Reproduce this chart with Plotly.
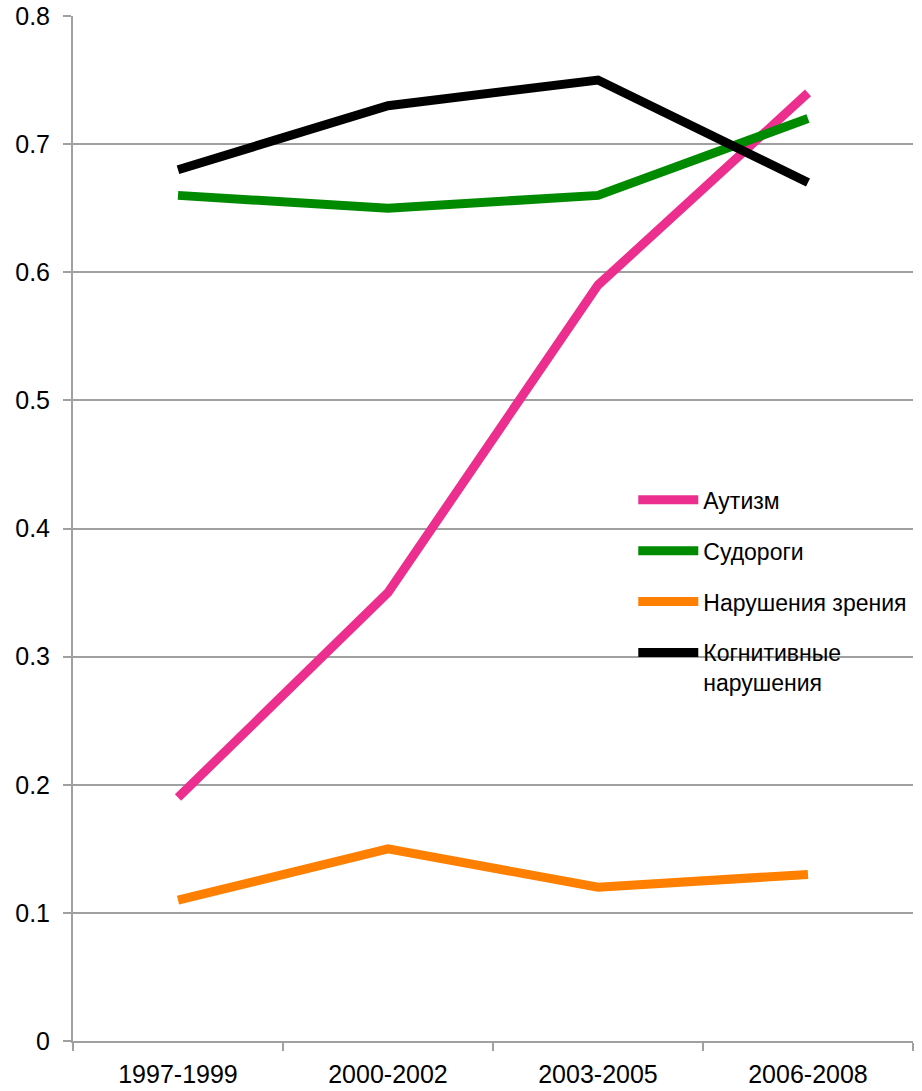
import plotly.graph_objects as go

periods = ["1997-1999", "2000-2002", "2003-2005", "2006-2008"]
autism = [0.19, 0.35, 0.59, 0.74]
seizures = [0.66, 0.65, 0.66, 0.72]
vision = [0.11, 0.15, 0.12, 0.13]
cognitive = [0.68, 0.73, 0.75, 0.67]

series = [
    ("Аутизм", autism, "#EC2F8F"),
    ("Судороги", seizures, "#008A00"),
    ("Нарушения зрения", vision, "#FF7F00"),
    ("Когнитивные<br>нарушения", cognitive, "#000000"),
]

fig = go.Figure()
for i, (name, vals, color) in enumerate(series):
    fig.add_trace(go.Scatter(
        x=periods, y=vals, name=name, mode="lines",
        line=dict(color=color, width=9),
        legendgroup=f"g{i}",
    ))

font_family = "Liberation Sans, Arial, sans-serif"
fig.update_layout(
    width=922, height=1091,
    margin=dict(l=73, r=9, t=16, b=50, autoexpand=False),
    paper_bgcolor="white", plot_bgcolor="white",
    font=dict(family=font_family, size=24, color="black"),
    showlegend=True,
    legend=dict(
        x=0.667, y=0.549, xanchor="left", yanchor="top",
        font=dict(size=23, family=font_family),
        traceorder="grouped", tracegroupgap=18, valign="top",
        bgcolor="rgba(0,0,0,0)", itemwidth=60,
    ),
    xaxis=dict(
        type="category", range=[-0.5, 3.5], automargin=False,
        showline=True, linecolor="#A0A0A0", linewidth=2,
        ticks="outside", tickson="boundaries", ticklen=8,
        tickcolor="#A0A0A0", tickwidth=2, ticklabelstandoff=10,
        showgrid=False, tickfont=dict(size=25),
    ),
    yaxis=dict(
        range=[0, 0.8], dtick=0.1, tickformat=".1~f", automargin=False,
        showline=True, linecolor="#A0A0A0", linewidth=2,
        ticks="outside", ticklen=8, tickcolor="#A0A0A0", tickwidth=2,
        ticklabelstandoff=8,
        showgrid=True, gridcolor="#A0A0A0", gridwidth=1.5,
        zeroline=False, tickfont=dict(size=25),
    ),
)

fig.write_html("out.html")
